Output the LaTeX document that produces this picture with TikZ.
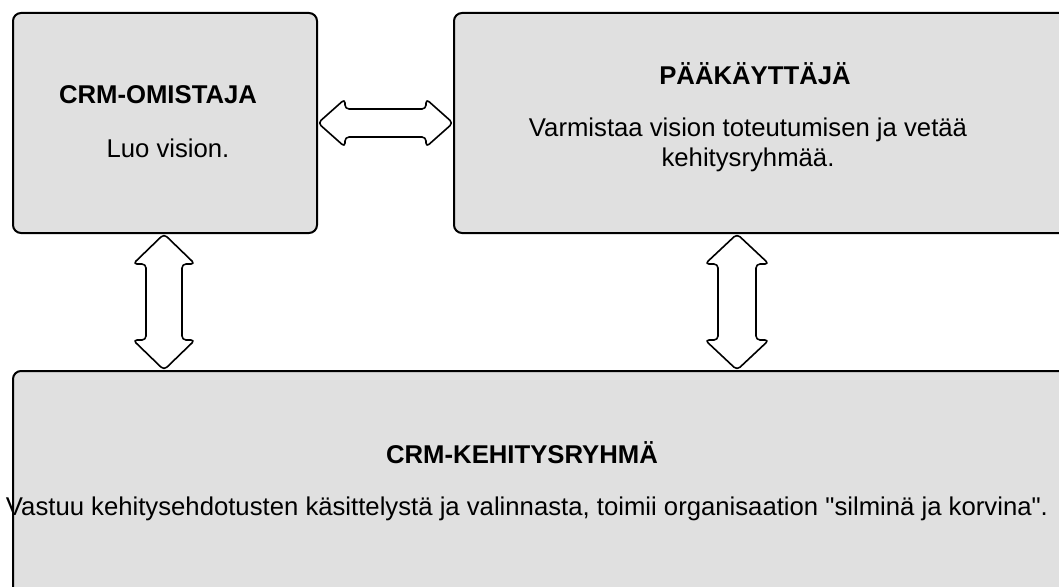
\documentclass[tikz,border=0pt]{standalone}
\usepackage{fontspec}
\setmainfont{Liberation Sans}
\usetikzlibrary{calc}
\definecolor{boxgray}{HTML}{E0E0E0}
% straight double quote, set as the glyph itself
\newcommand{\dq}{\XeTeXglyph\XeTeXcharglyph"22\relax}
\tikzset{
  rolebox/.style={draw=black, line width=2pt, fill=boxgray, rounded corners=8pt,
    inner sep=0pt, anchor=north west},
  title/.style={font=\fontsize{25.7}{30}\selectfont\bfseries, inner sep=0pt},
  body/.style={font=\fontsize{25.7}{30}\selectfont, inner sep=0pt, align=center},
  dblarrow/.style={draw=black, line width=1.6pt, fill=white, rounded corners=4pt, line join=round}
}
\begin{document}
\begin{tikzpicture}[x=1pt, y=-1pt]
\useasboundingbox (0,0) rectangle (1059,586);
\fill[white] (0,0) rectangle (1059,586);
\clip (0,0) rectangle (1059,586);

% role boxes
\node[rolebox, minimum width=304pt, minimum height=220pt] (owner) at (12,12) {};
\node[rolebox, minimum width=620pt, minimum height=220pt] (admin) at (453,12) {};
\node[rolebox, minimum width=1060pt, minimum height=240pt] (team) at (12,370) {};

% texts
\node[title] (ownerT) at (158,95) {CRM-OMISTAJA};
\node[body]  (ownerB) at (168,148) {Luo vision.};
\node[title] (adminT) at (755,74) {PÄÄKÄYTTÄJÄ};
\node[body]  (adminB) at (748,145) {Varmistaa vision toteutumisen ja vetää\\kehitysryhmää.};
\node[title] (teamT) at (522,453) {CRM-KEHITYSRYHMÄ};
\node[body]  (teamB) at (527,509) {Vastuu kehitysehdotusten käsittelystä ja valinnasta, toimii organisaation \dq silminä ja korvina\dq.};

% connector end points
\coordinate (hA) at (owner.east);
\coordinate (hB) at (admin.west |- owner.east);
\coordinate (lA) at ([xshift=-1pt]owner.south);
\coordinate (lB) at (lA |- team.north);
\coordinate (rA) at ([xshift=284pt]admin.south west);
\coordinate (rB) at (rA |- team.north);

% horizontal double arrow
\draw[dblarrow] let \p1=(hA), \p2=(hB) in
  (\x1,\y1) -- (\x1+27pt,\y1+24pt) -- (\x1+27pt,\y1+14pt) -- (\x2-27pt,\y1+14pt)
  -- (\x2-27pt,\y1+24pt) -- (\x2,\y1) -- (\x2-27pt,\y1-24pt) -- (\x2-27pt,\y1-14pt)
  -- (\x1+27pt,\y1-14pt) -- (\x1+27pt,\y1-24pt) -- cycle;

% left vertical double arrow
\draw[dblarrow] let \p1=(lA), \p2=(lB) in
  (\x1,\y1) -- (\x1+31pt,\y1-30pt) -- (\x1+18pt,\y1-30pt) -- (\x1+18pt,\y2+30pt)
  -- (\x1+31pt,\y2+30pt) -- (\x1,\y2) -- (\x1-31pt,\y2+30pt) -- (\x1-18pt,\y2+30pt)
  -- (\x1-18pt,\y1-30pt) -- (\x1-31pt,\y1-30pt) -- cycle;

% right vertical double arrow
\draw[dblarrow] let \p1=(rA), \p2=(rB) in
  (\x1,\y1) -- (\x1+32pt,\y1-30pt) -- (\x1+19pt,\y1-30pt) -- (\x1+19pt,\y2+30pt)
  -- (\x1+32pt,\y2+30pt) -- (\x1,\y2) -- (\x1-32pt,\y2+30pt) -- (\x1-19pt,\y2+30pt)
  -- (\x1-19pt,\y1-30pt) -- (\x1-32pt,\y1-30pt) -- cycle;
\end{tikzpicture}
\end{document}
